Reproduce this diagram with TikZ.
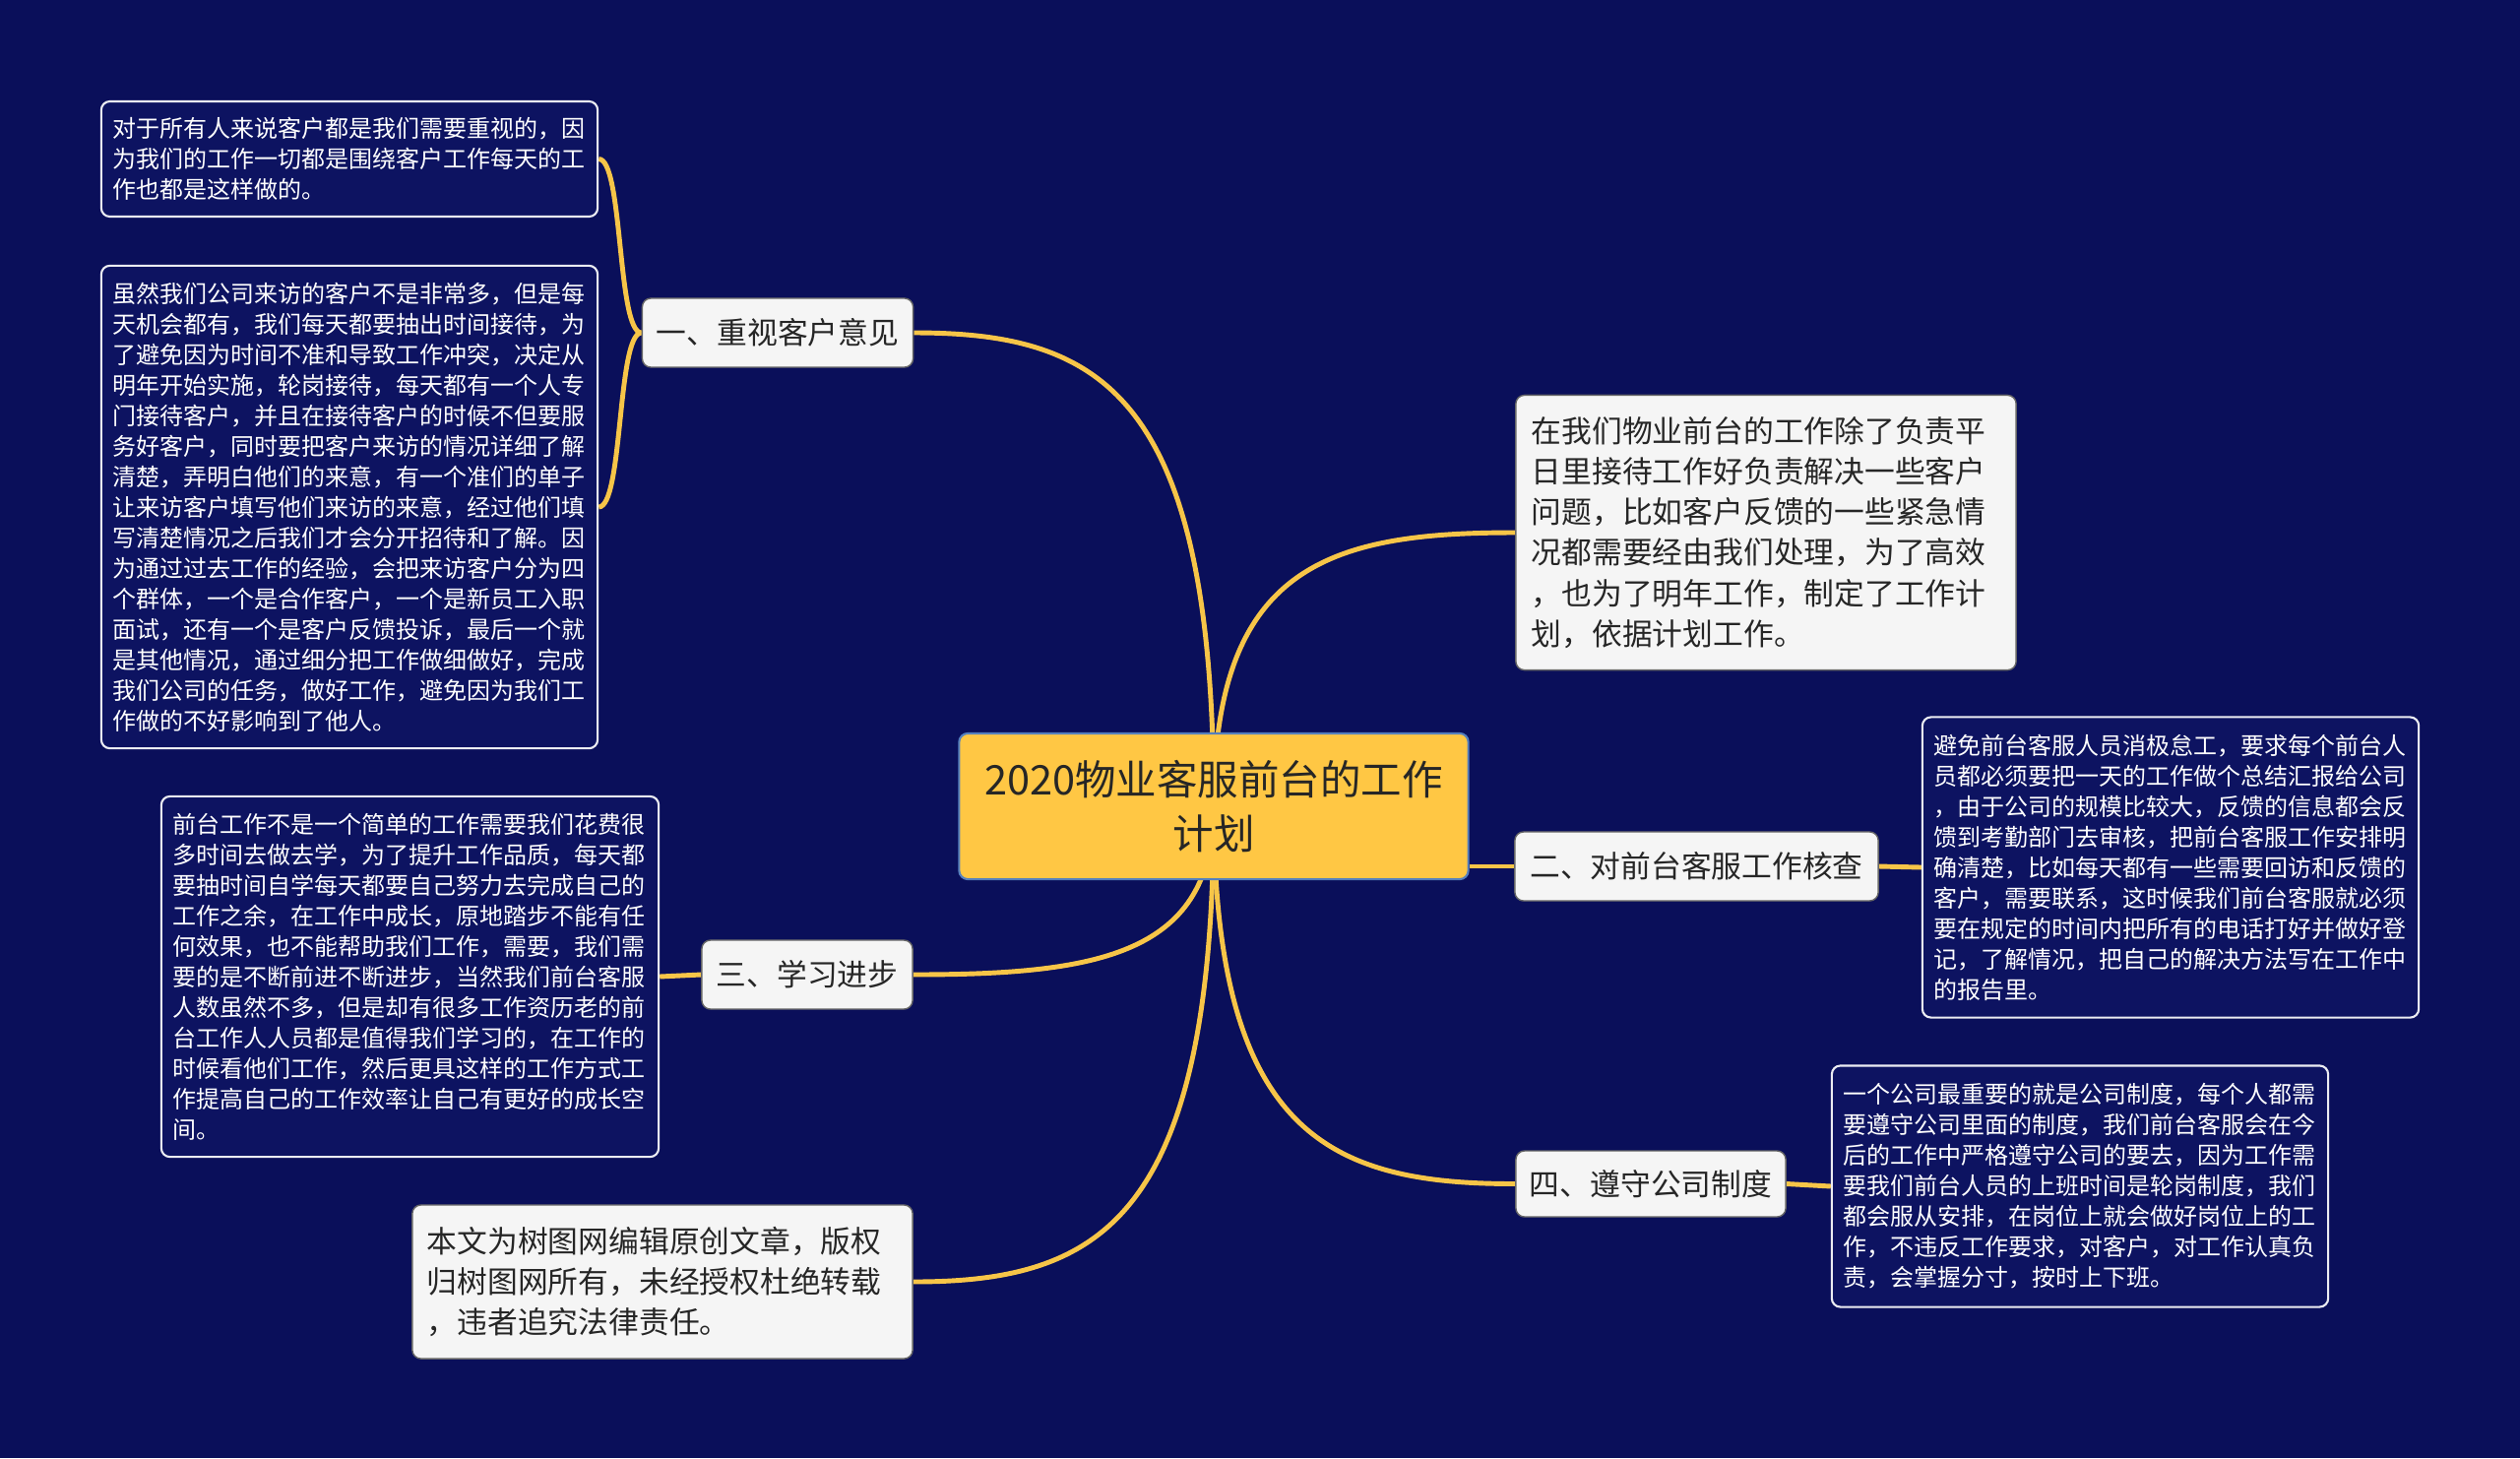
\documentclass[tikz,border=0pt]{standalone}
\usepackage{fontspec}
\newfontfamily\cjk{Noto Sans CJK SC}
\usepackage{tikz}
\usetikzlibrary{backgrounds}

\definecolor{navy}{RGB}{10,15,90}
\definecolor{leafnavy}{RGB}{13,19,97}
\definecolor{rootfill}{RGB}{255,199,68}
\definecolor{rootedge}{RGB}{86,128,189}
\definecolor{paper}{RGB}{245,245,245}
\definecolor{ink}{RGB}{38,38,38}
\definecolor{wire}{RGB}{247,197,72}

\tikzset{
  topicbox/.style={draw=rootedge, fill=rootfill, rounded corners=2.5pt, line width=0.6pt,
    text=ink, align=center, inner sep=0pt, font=\cjk\fontsize{11.8pt}{15.6pt}\selectfont},
  subbox/.style={draw=black!60, fill=paper, rounded corners=2.5pt, line width=0.4pt,
    text=ink, inner sep=0pt, minimum height=0.70cm, font=\cjk\fontsize{8.75pt}{11.7pt}\selectfont},
  leafbox/.style={draw=white!92!navy, fill=leafnavy, rounded corners=2.5pt, line width=0.6pt,
    text=white, align=left, inner xsep=0.12cm, inner ysep=0pt, font=\cjk\fontsize{6.82pt}{8.82pt}\selectfont},
  memobox/.style={draw=black!60, fill=paper, rounded corners=2.5pt, line width=0.4pt,
    text=ink, align=left, inner xsep=0.16cm, inner ysep=0pt, font=\cjk\fontsize{8.75pt}{11.7pt}\selectfont},
  conn/.style={draw=wire, line width=1.4pt},
}

\begin{document}
\begin{tikzpicture}[x=0.01cm, y=-0.01cm]
  \useasboundingbox (0,0) rectangle (2560,1481);

  % centre and main topics
  \node[topicbox, minimum width=5.17cm, minimum height=1.48cm] (root) at (1233,819) {2020物业客服前台的工作\\计划};
  \node[subbox, minimum width=2.75cm] (view) at (790,338) {一、重视客户意见};
  \node[subbox, minimum width=3.69cm] (check) at (1723.5,880) {二、对前台客服工作核查};
  \node[subbox, minimum width=2.14cm] (study) at (820,990) {三、学习进步};
  \node[subbox, minimum width=2.74cm, minimum height=0.67cm] (rules) at (1677,1202.5) {四、遵守公司制度};

  % free texts
  \node[memobox, text width=4.76cm, minimum height=2.79cm] (intro) at (1794,541) {在我们物业前台的工作除了负责平\\
日里接待工作好负责解决一些客户\\
问题，比如客户反馈的一些紧急情\\
况都需要经由我们处理，为了高效\\
，也为了明年工作，制定了工作计\\
划，依据计划工作。};
  \node[memobox, text width=4.78cm, inner xsep=0.15cm, minimum height=1.56cm] (notice) at (673,1302) {本文为树图网编辑原创文章，版权\\
归树图网所有，未经授权杜绝转载\\
，违者追究法律责任。};

  % details
  \node[leafbox, text width=4.80cm, minimum height=1.17cm] (viewa) at (355,161.5) {对于所有人来说客户都是我们需要重视的，因\\
为我们的工作一切都是围绕客户工作每天的工\\
作也都是这样做的。};
  \node[leafbox, text width=4.80cm, minimum height=4.90cm] (viewb) at (355,515) {虽然我们公司来访的客户不是非常多，但是每\\
天机会都有，我们每天都要抽出时间接待，为\\
了避免因为时间不准和导致工作冲突，决定从\\
明年开始实施，轮岗接待，每天都有一个人专\\
门接待客户，并且在接待客户的时候不但要服\\
务好客户，同时要把客户来访的情况详细了解\\
清楚，弄明白他们的来意，有一个准们的单子\\
让来访客户填写他们来访的来意，经过他们填\\
写清楚情况之后我们才会分开招待和了解。因\\
为通过过去工作的经验，会把来访客户分为四\\
个群体，一个是合作客户，一个是新员工入职\\
面试，还有一个是客户反馈投诉，最后一个就\\
是其他情况，通过细分把工作做细做好，完成\\
我们公司的任务，做好工作，避免因为我们工\\
作做的不好影响到了他人。};
  \node[leafbox, text width=4.80cm, minimum height=3.05cm] (checka) at (2205,881) {避免前台客服人员消极怠工，要求每个前台人\\
员都必须要把一天的工作做个总结汇报给公司\\
，由于公司的规模比较大，反馈的信息都会反\\
馈到考勤部门去审核，把前台客服工作安排明\\
确清楚，比如每天都有一些需要回访和反馈的\\
客户，需要联系，这时候我们前台客服就必须\\
要在规定的时间内把所有的电话打好并做好登\\
记，了解情况，把自己的解决方法写在工作中\\
的报告里。};
  \node[leafbox, text width=4.81cm, minimum height=3.66cm] (studya) at (416.5,992) {前台工作不是一个简单的工作需要我们花费很\\
多时间去做去学，为了提升工作品质，每天都\\
要抽时间自学每天都要自己努力去完成自己的\\
工作之余，在工作中成长，原地踏步不能有任\\
何效果，也不能帮助我们工作，需要，我们需\\
要的是不断前进不断进步，当然我们前台客服\\
人数虽然不多，但是却有很多工作资历老的前\\
台工作人人员都是值得我们学习的，在工作的\\
时候看他们工作，然后更具这样的工作方式工\\
作提高自己的工作效率让自己有更好的成长空\\
间。};
  \node[leafbox, text width=4.80cm, minimum height=2.45cm] (rulesa) at (2113,1205) {一个公司最重要的就是公司制度，每个人都需\\
要遵守公司里面的制度，我们前台客服会在今\\
后的工作中严格遵守公司的要去，因为工作需\\
要我们前台人员的上班时间是轮岗制度，我们\\
都会服从安排，在岗位上就会做好岗位上的工\\
作，不违反工作要求，对客户，对工作认真负\\
责，会掌握分寸，按时上下班。};

  \begin{pgfonlayer}{background}
    \fill[navy] (0,0) rectangle (2560,1481);
    % centre to topics
    \draw[conn] (root.center) .. controls +(0,-420) and +(190,0) .. (view.east);
    \draw[conn] (root.center) .. controls +(0,-245) and +(-188,0) .. (intro.west);
    \draw[conn] (check.west -| root.east) -- (check.west);
    \draw[conn] (root.center) .. controls +(0,150) and +(190,0) .. (study.east);
    \draw[conn] (root.center) .. controls +(0,420) and +(190,0) .. (notice.east);
    \draw[conn] (root.center) .. controls +(0,335) and +(-187,0) .. (rules.west);
    % topics to details
    \draw[conn] (view.west) .. controls +(-25,0) and +(25,0) .. (viewa.east);
    \draw[conn] (view.west) .. controls +(-25,0) and +(25,0) .. (viewb.east);
    \draw[conn] (check.east) -- (checka.west);
    \draw[conn] (study.west) -- (studya.east);
    \draw[conn] (rules.east) -- (rulesa.west);
  \end{pgfonlayer}
\end{tikzpicture}
\end{document}
